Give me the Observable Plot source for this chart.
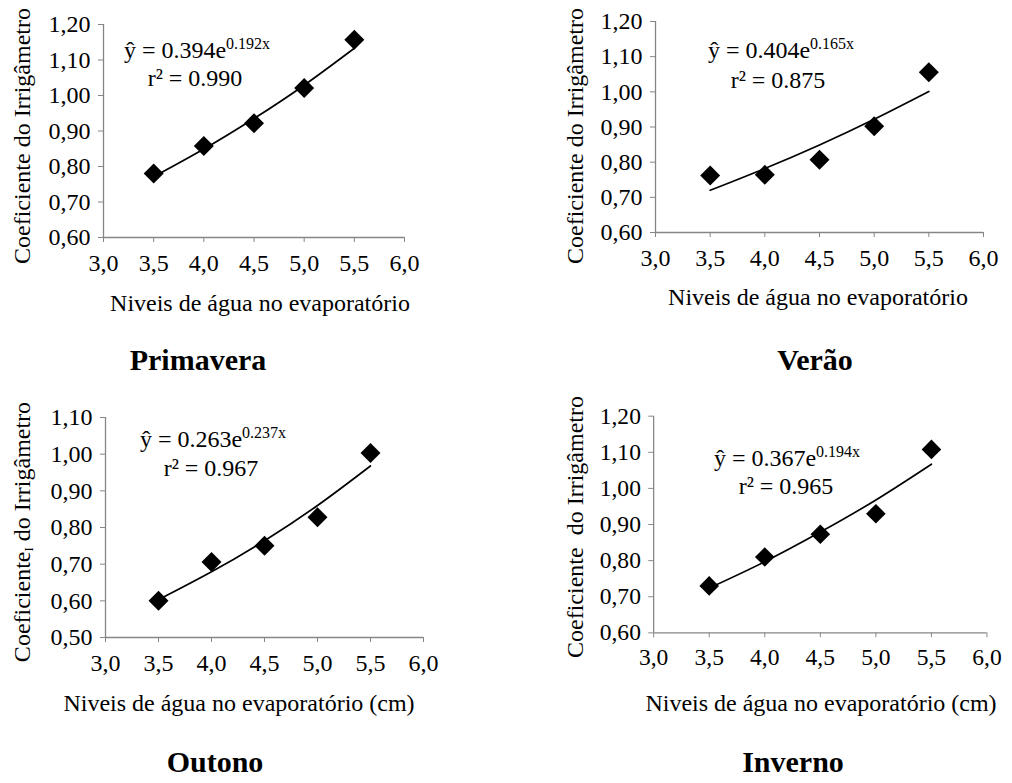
<!DOCTYPE html>
<html>
<head>
<meta charset="utf-8">
<script src="https://cdn.jsdelivr.net/npm/d3@7"></script>
<script src="https://cdn.jsdelivr.net/npm/@observablehq/plot@0.6"></script>
<style>
  html, body { margin: 0; padding: 0; background: #fff; }
  #fig { position: relative; width: 1012px; height: 783px; font-family: "Liberation Serif", "DejaVu Serif", serif; color: #000; overflow: hidden; }
  .panel { position: absolute; }
  .panel svg text { font-family: "Liberation Serif", "DejaVu Serif", serif !important; font-size: 24px !important; }
  .lbl { position: absolute; white-space: pre; line-height: 1; transform: translate(-50%, -50%); }
  .ytitle { transform: translate(-50%, -50%) rotate(-90deg); }
  .ytitle sub { font-size: 13px; vertical-align: 0; position: relative; top: 0.25em; }
  .eq { font-size: 24px; }
  .eq sup { font-size: 16px; vertical-align: 0; position: relative; top: -0.55em; }
  .season { font-weight: bold; font-size: 30px; }
  .axt { font-size: 24px; }
</style>
</head>
<body>
<div id="fig"></div>
<script>
// ---- data ----
const levels = [3.5, 4.0, 4.5, 5.0, 5.5];
const xTicks = [3.0, 3.5, 4.0, 4.5, 5.0, 5.5, 6.0];

const primavera      = [0.780, 0.858, 0.922, 1.021, 1.157];
const primaveraTrend = [0.771, 0.849, 0.935, 1.029, 1.133];
const verao          = [0.762, 0.764, 0.807, 0.902, 1.056];
const veraoTrend     = [0.720, 0.782, 0.849, 0.922, 1.001];
const outono         = [0.600, 0.706, 0.750, 0.828, 1.003];
const outonoTrend    = [0.603, 0.679, 0.764, 0.860, 0.968];
const inverno        = [0.730, 0.810, 0.873, 0.930, 1.108];
const invernoTrend   = [0.724, 0.797, 0.879, 0.968, 1.067];

const yTicksA = [0.60, 0.70, 0.80, 0.90, 1.00, 1.10, 1.20];
const yTicksB = [0.50, 0.60, 0.70, 0.80, 0.90, 1.00, 1.10];

const seasons   = ["Primavera", "Verão", "Outono", "Inverno"];
const equations = [["0.394", "0.192x", "0.990"], ["0.404", "0.165x", "0.875"], ["0.263", "0.237x", "0.967"], ["0.367", "0.194x", "0.965"]];
const yTitles   = ["Coeficiente do Irrigâmetro", "Coeficiente do Irrigâmetro", "Coeficiente<sub>I</sub> do Irrigâmetro", "Coeficiente  do Irrigâmetro"];
const xTitles   = ["Niveis de água no evaporatório", "Niveis de água no evaporatório", "Niveis de água no evaporatório (cm)", "Niveis de água no evaporatório (cm)"];

// ---- layout ----
const panels = [
  {obs: primavera, trend: primaveraTrend, yTicks: yTicksA, box: [103, 404, 24, 237],
   eq: [197, 50], r2: [195, 78], season: [198, 360], xt: [260, 303], yt: [22, 136]},
  {obs: verao, trend: veraoTrend, yTicks: yTicksA, box: [655, 983, 21, 232],
   eq: [781, 50], r2: [778, 80], season: [815, 360], xt: [818, 297], yt: [575, 136]},
  {obs: outono, trend: outonoTrend, yTicks: yTicksB, box: [105, 423, 417, 637],
   eq: [213, 439], r2: [211, 468], season: [215, 762], xt: [239, 703], yt: [22, 532]},
  {obs: inverno, trend: invernoTrend, yTicks: yTicksA, box: [655, 995, 416, 637],
   eq: [787, 458], r2: [786, 486], season: [793, 762], xt: [821, 703], yt: [575, 527]}
];

const fig = document.getElementById("fig");
const fmtY = d => d3.format(".2f")(d).replace(".", ",");
const fmtX = d => d3.format(".1f")(d).replace(".", ",");
const serif = "Liberation Serif, DejaVu Serif, serif";

function addLabel(html, [x, y], cls) {
  const el = document.createElement("div");
  el.className = "lbl " + cls;
  el.style.left = x + "px";
  el.style.top = y + "px";
  el.innerHTML = html;
  fig.appendChild(el);
}

panels.forEach((p, i) => {
  const [x0, x1, y0, y1] = p.box;
  const left = x0 - 95, top = y0 - 16;
  const pts = levels.map((x, k) => ({x, y: p.obs[k]}));
  const tr = levels.map((x, k) => ({x, y: p.trend[k]}));
  const yDom = [p.yTicks[0], p.yTicks[p.yTicks.length - 1]];
  const chart = Plot.plot({
    width: (x1 - left) + 26,
    height: (y1 - top) + 42,
    marginLeft: x0 - left,
    marginRight: 26,
    marginTop: y0 - top,
    marginBottom: 42,
    style: {fontFamily: serif, fontSize: "24px", background: "transparent", overflow: "visible"},
    x: {domain: [3, 6]},
    y: {domain: yDom},
    marks: [
      Plot.axisY({ticks: p.yTicks, tickFormat: fmtY, tickSize: 5, tickPadding: 8, stroke: "#868686", fill: "#000", label: null, fontSize: 24, fontFamily: serif}),
      Plot.axisX({ticks: xTicks, tickFormat: fmtX, tickSize: 5, tickPadding: 11, stroke: "#868686", fill: "#000", label: null, fontSize: 24, fontFamily: serif}),
      Plot.ruleX([3], {stroke: "#868686", strokeWidth: 1.3}),
      Plot.ruleY([yDom[0]], {stroke: "#868686", strokeWidth: 1.3}),
      Plot.line(tr, {x: "x", y: "y", curve: "natural", stroke: "#000", strokeWidth: 1.7}),
      Plot.dot(pts, {x: "x", y: "y", symbol: "diamond2", r: 9, fill: "#000", stroke: "none"})
    ]
  });
  d3.select(chart).selectAll("g").attr("font-size", 24).attr("font-family", serif);
  d3.select(chart).selectAll("text").attr("font-family", serif).attr("font-size", 24).style("font-size", "24px");
  const wrap = document.createElement("div");
  wrap.className = "panel";
  wrap.style.left = left + "px";
  wrap.style.top = top + "px";
  wrap.appendChild(chart);
  fig.appendChild(wrap);

  const [a, b, r2] = equations[i];
  addLabel(`ŷ = ${a}e<sup>${b}</sup>`, p.eq, "eq");
  addLabel(`r² = ${r2}`, p.r2, "eq");
  addLabel(seasons[i], p.season, "season");
  addLabel(xTitles[i], p.xt, "axt");
  addLabel(yTitles[i], p.yt, "axt ytitle");
});
</script>
</body>
</html>
